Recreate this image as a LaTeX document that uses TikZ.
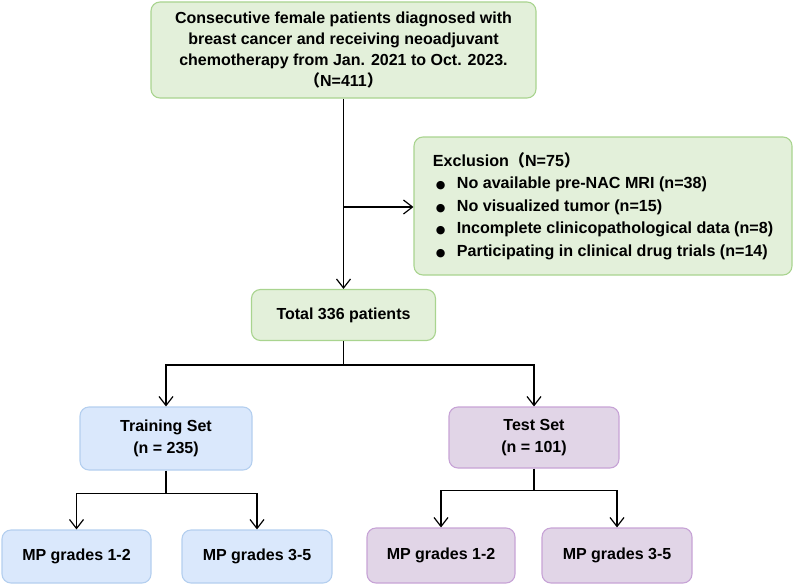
\documentclass[tikz,border=0pt]{standalone}
\usepackage{fontspec}
\setmainfont{Liberation Sans}
\newfontfamily\cjk{Noto Sans CJK SC}
\newfontfamily\sym{DejaVu Sans}
\usetikzlibrary{arrows.meta}
\definecolor{gfill}{HTML}{E3F0DA}
\definecolor{gline}{HTML}{A9D48F}
\definecolor{bfill}{HTML}{DAE8FC}
\definecolor{bline}{HTML}{B4CFEF}
\definecolor{pfill}{HTML}{E1D5E7}
\definecolor{pline}{HTML}{C7A3D6}
\newcommand{\fwl}{{\cjk （}}
\newcommand{\fwr}{{\cjk ）}}
\newcommand{\blt}{\hspace*{3pt}\makebox[21pt][l]{{\sym\fontsize{11}{11}\selectfont ●}}}

\begin{document}
\begin{tikzpicture}[x=1pt,y=-1pt,
  box/.style={draw,rounded corners=9pt,line width=1.1pt,align=center,
    font=\fontsize{16}{20.7}\selectfont\bfseries,inner sep=0pt},
  greenbox/.style={box,fill=gfill,draw=gline},
  bluebox/.style={box,fill=bfill,draw=bline},
  purplebox/.style={box,fill=pfill,draw=pline},
  arr/.style={-{Straight Barb[length=9pt,width=14pt]}},
  line width=1.2pt]
  \useasboundingbox (0,0) rectangle (794,586);
  % top of the flow
  \node[greenbox,minimum width=385pt,minimum height=96pt] (top) at (343.5,50)
    {Consecutive female patients diagnosed with\\
     breast cancer and receiving neoadjuvant\\
     chemotherapy from Jan. 2021 to Oct. 2023.\\
     \fwl N=411\fwr};
  \node[greenbox,minimum width=378pt,minimum height=138pt,align=left,
    font=\fontsize{16.1}{22.5}\selectfont\bfseries] (excl) at (603,206)
    {Exclusion\fwl N=75\fwr\\
     \blt No available pre-NAC MRI (n=38)\\
     \blt No visualized tumor (n=15)\\
     \blt Incomplete clinicopathological data (n=8)\\
     \blt Participating in clinical drug trials (n=14)};
  \node[greenbox,minimum width=184pt,minimum height=51pt] (total) at (343.5,315)
    {Total 336 patients};
  \coordinate (split) at (343.5,207);
  \draw[arr] (top) -- (total);
  \draw[arr] (split) -- (split -| excl.west);
  % two sets
  \node[bluebox,minimum width=172pt,minimum height=63pt,
    font=\fontsize{16}{22}\selectfont\bfseries] (train) at (166,438.5)
    {Training Set\\(n = 235)};
  \node[purplebox,minimum width=170pt,minimum height=61pt,
    font=\fontsize{16}{22}\selectfont\bfseries] (test) at (534,437.5)
    {Test Set\\(n = 101)};
  \draw (total.south) -- ++(0,24) coordinate (fork);
  \draw[arr] (fork) -| (train.north);
  \draw[arr] (fork) -| (test.north);
  % grades
  \node[bluebox,minimum width=149pt,minimum height=53pt] (trainA) at (76.5,556.5)
    {MP grades 1-2};
  \node[bluebox,minimum width=150pt,minimum height=53pt] (trainB) at (257,556.5)
    {MP grades 3-5};
  \node[purplebox,minimum width=148pt,minimum height=55pt] (testA) at (441,555.5)
    {MP grades 1-2};
  \node[purplebox,minimum width=150pt,minimum height=55pt] (testB) at (617,555.5)
    {MP grades 3-5};
  \draw (train.south) -- ++(0,23) coordinate (forkA);
  \draw[arr] (forkA) -| (trainA.north);
  \draw[arr] (forkA) -| (trainB.north);
  \draw (test.south) -- ++(0,22) coordinate (forkB);
  \draw[arr] (forkB) -| (testA.north);
  \draw[arr] (forkB) -| (testB.north);
\end{tikzpicture}
\end{document}
